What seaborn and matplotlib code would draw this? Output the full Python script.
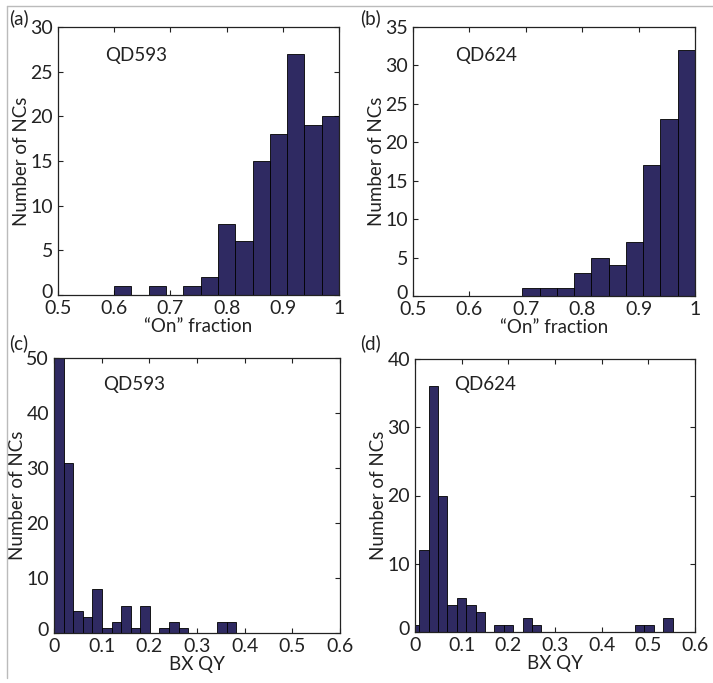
import numpy as np
import pandas as pd
import matplotlib
matplotlib.use("Agg")
import matplotlib.pyplot as plt
import matplotlib.transforms as mtransforms
import seaborn as sns
from matplotlib.lines import Line2D

# ---- data ----
# (a) QD593 "On" fraction: 13 bins between 0.6 and 1.0
a_range = (0.6, 1.0)
a_counts = [1, 0, 1, 0, 1, 2, 8, 6, 15, 18, 27, 19, 20]
# (b) QD624 "On" fraction: 10 bins between 0.694 and 1.0
b_range = (0.694, 1.0)
b_counts = [1, 1, 1, 3, 5, 4, 7, 17, 23, 32]
# (c) QD593 BX QY: 19 bins between 0 and 0.382
c_range = (0.0, 0.382)
c_counts = [50, 31, 4, 3, 8, 1, 2, 5, 1, 5, 0, 1, 2, 1, 0, 0, 0, 2, 2]
# (d) QD624 BX QY: 28 bins between -0.0108 and 0.552
d_range = (-0.0108, 0.552)
d_counts = [1, 12, 36, 20, 4, 5, 4, 3, 0, 1, 1, 0, 2, 1,
            0, 0, 0, 0, 0, 0, 0, 0, 0, 0, 1, 1, 0, 2]

panel_labels = ["(a)", "(b)", "(c)", "(d)"]
sample_names = ["QD593", "QD624", "QD593", "QD624"]
x_labels = ["\u201cOn\u201d fraction", "\u201cOn\u201d fraction", "BX QY", "BX QY"]
y_label = "Number of NCs"
on_ticks = [0.5, 0.6, 0.7, 0.8, 0.9, 1.0]
on_ticklabels = ["0.5", "0.6", "0.7", "0.8", "0.9", "1"]
qy_ticks = [0, 0.1, 0.2, 0.3, 0.4, 0.5, 0.6]
qy_ticklabels = ["0", "0.1", "0.2", "0.3", "0.4", "0.5", "0.6"]

sns.set_theme(style="ticks")
plt.rcParams["font.family"] = ["Lato", "DejaVu Sans"]

W, H = 713, 683
fig = plt.figure(figsize=(W / 100, H / 100), dpi=100)
fig.patch.set_facecolor("white")

def add_ax(left, right, top, bottom):
    return fig.add_axes([left / W, (H - bottom) / H, (right - left) / W, (bottom - top) / H])

axes = [
    add_ax(58, 339, 27, 295),
    add_ax(413, 695, 27, 296),
    add_ax(54, 340, 358, 633),
    add_ax(415, 695, 359, 632),
]

bar_color = "#2F2A62"
data = [
    (a_range, a_counts, (0.5, 1.0), (0, 30), np.arange(0, 31, 5), on_ticks, on_ticklabels),
    (b_range, b_counts, (0.5, 1.0), (0, 35), np.arange(0, 36, 5), on_ticks, on_ticklabels),
    (c_range, c_counts, (0.0, 0.6), (0, 50), np.arange(0, 51, 10), qy_ticks, qy_ticklabels),
    (d_range, d_counts, (0.0, 0.6), (0, 40), np.arange(0, 41, 10), qy_ticks, qy_ticklabels),
]

for i, (ax, (rng, counts, xl, yl, yt, xt, xtl)) in enumerate(zip(axes, data)):
    n = len(counts)
    w = (rng[1] - rng[0]) / n
    centers = rng[0] + w * (np.arange(n) + 0.5)
    df = pd.DataFrame({"x": centers, "n": np.asarray(counts, dtype=float)})
    sns.histplot(data=df, x="x", weights="n", bins=n, binrange=rng, ax=ax,
                 color=bar_color, edgecolor="black", linewidth=0.6, alpha=1.0)
    ax.set_xlim(*xl)
    ax.set_ylim(*yl)
    ax.set_xticks(xt)
    ax.set_xticklabels(xtl)
    ax.set_yticks(yt)
    ax.set_yticklabels([str(v) for v in yt])
    ax.tick_params(direction="in", top=True, right=True, length=3.5, width=0.8,
                   labelsize=14, pad=3.5, colors="#222222")
    for s in ax.spines.values():
        s.set_visible(True)
        s.set_linewidth(0.9)
        s.set_color("#222222")
    ax.set_xlabel(x_labels[i], fontsize=13.5, labelpad=1, color="#222222")
    ax.set_ylabel(y_label, fontsize=13.5, labelpad=0, color="#222222")
    ax.set_facecolor("white")
    ax.grid(False)
    # nudge the y "0" label up a little, as in the reference corner
    lab0 = ax.get_yticklabels()[0]
    lab0.set_transform(lab0.get_transform() +
                       mtransforms.ScaledTranslation(0, 4 / 100, fig.dpi_scale_trans))

# sample annotations (axes fraction)
ann_pos = [(0.166, 0.894), (0.148, 0.895), (0.172, 0.903), (0.139, 0.906)]
for ax, name, (x, y) in zip(axes, sample_names, ann_pos):
    ax.text(x, y, name, transform=ax.transAxes, fontsize=13.5, ha="left", va="center",
            color="#222222")

# panel labels (figure pixels)
pl_pos = [(9, 18), (360, 18), (9, 343), (360, 343)]
for lab, (x, y) in zip(panel_labels, pl_pos):
    fig.text(x / W, (H - y) / H, lab, fontsize=13.5, ha="left", va="center", color="#222222")

# faint frame lines from the source scan
fig.add_artist(Line2D([7 / W, 1], [(H - 6) / H, (H - 6) / H], transform=fig.transFigure,
                      color="#bbbbbb", linewidth=1.0))
fig.add_artist(Line2D([7 / W, 7 / W], [(H - 6) / H, (H - 678) / H], transform=fig.transFigure,
                      color="#bbbbbb", linewidth=1.0))

fig.savefig("out.png", dpi=100, facecolor="white")
